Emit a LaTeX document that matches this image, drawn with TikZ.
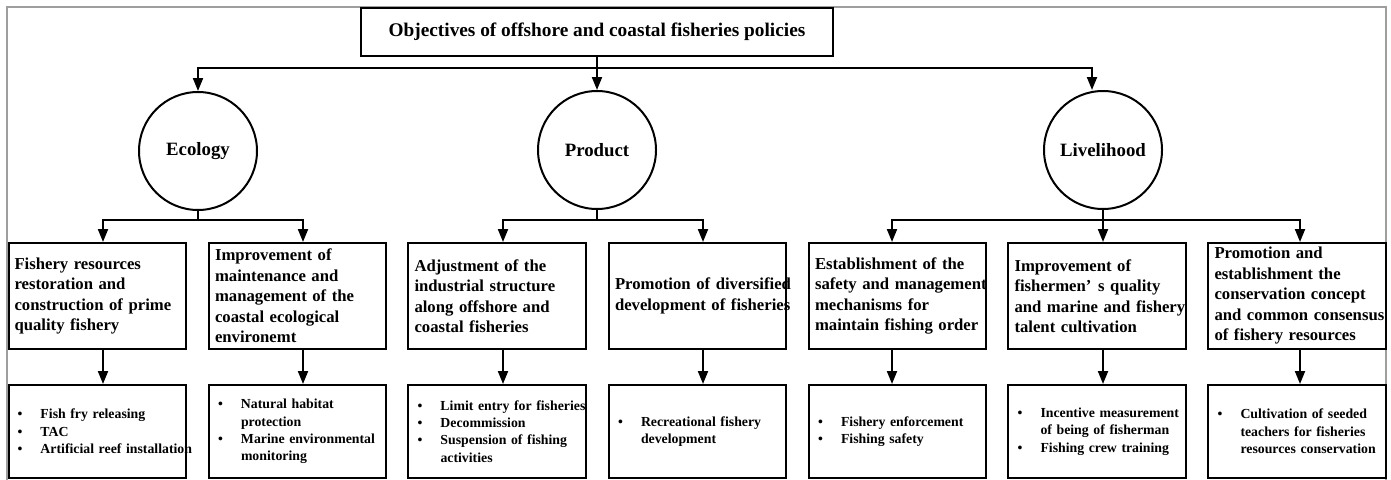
\documentclass[tikz,border=0pt]{standalone}
\usepackage{fontspec}
\setmainfont{Liberation Serif}
\usetikzlibrary{arrows.meta}
\newcommand{\bitem}{\makebox[23pt][l]{\textbullet}}
\newcommand{\bcont}{\hspace*{23pt}}
\begin{document}
\begin{tikzpicture}[x=1pt,y=-1pt,
  line width=2pt,
  arr/.style={-{Triangle[length=13pt,width=10pt]}},
  titlebox/.style={draw,minimum width=472pt,minimum height=48pt,inner sep=0pt,
    font=\bfseries\fontsize{19.3}{23}\selectfont},
  circ/.style={draw,circle,minimum size=118pt,inner sep=0pt,
    font=\bfseries\fontsize{18.8}{22}\selectfont},
  ubox/.style={draw,minimum width=177pt,minimum height=106pt,inner xsep=6pt,
    text width=165pt,align=left,font=\bfseries\fontsize{16.7}{20.5}\selectfont},
  lbox/.style={draw,minimum width=177pt,minimum height=93pt,inner xsep=9pt,
    text width=159pt,align=left,font=\bfseries\fontsize{13.8}{17.3}\selectfont}]
\useasboundingbox (0,0) rectangle (1391,479);
\draw[line width=1.4pt,color=black!38] (7,482) -- (7,7) -- (1386,7) -- (1386,482);

\node[titlebox] (title) at (597,32) {Objectives of offshore and coastal fisheries policies};

\node[circ] (eco) at (198,151) {Ecology};
\node[circ] (prod) at (597,150) {Product};
\node[circ] (liv) at (1103,150) {Livelihood};

\node[ubox,minimum width=176pt] (b1) at (97,296) {\mbox{Fishery resources}\\\mbox{restoration and}\\\mbox{construction of prime}\\\mbox{quality fishery}};
\node[ubox] (b2) at (297.5,296) {\mbox{Improvement of}\\\mbox{maintenance and}\\\mbox{management of the}\\\mbox{coastal ecological}\\\mbox{environemt}};
\node[ubox,minimum width=178pt] (b3) at (497,296) {\mbox{Adjustment of the}\\\mbox{industrial structure}\\\mbox{along offshore and}\\\mbox{coastal fisheries}};
\node[ubox] (b4) at (697.5,296) {\mbox{Promotion of diversified}\\\mbox{development of fisheries}};
\node[ubox] (b5) at (897.5,296) {\mbox{Establishment of the}\\\mbox{safety and management}\\\mbox{mechanisms for}\\\mbox{maintain fishing order}};
\node[ubox,minimum width=178pt] (b6) at (1097,296) {\mbox{Improvement of}\\\mbox{fishermen’\hspace{0.4em}s quality}\\\mbox{and marine and fishery}\\\mbox{talent cultivation}};
\node[ubox,minimum width=178pt] (b7) at (1297,296) {\mbox{Promotion and}\\\mbox{establishment the}\\\mbox{conservation concept}\\\mbox{and common consensus}\\\mbox{of fishery resources}};

\node[lbox,minimum width=176pt] (c1) at (97,431.5) {\mbox{\bitem Fish fry releasing}\\\mbox{\bitem TAC}\\\mbox{\bitem Artificial reef installation}};
\node[lbox] (c2) at (297.5,431.5) {\mbox{\bitem Natural habitat}\\\mbox{\bcont protection}\\\mbox{\bitem Marine environmental}\\\mbox{\bcont monitoring}};
\node[lbox,minimum width=178pt] (c3) at (497,431.5) {\mbox{\bitem Limit entry for fisheries}\\\mbox{\bitem Decommission}\\\mbox{\bitem Suspension of fishing}\\\mbox{\bcont activities}};
\node[lbox] (c4) at (697.5,431.5) {\mbox{\bitem Recreational fishery}\\\mbox{\bcont development}};
\node[lbox] (c5) at (897.5,431.5) {\mbox{\bitem Fishery enforcement}\\\mbox{\bitem Fishing safety}};
\node[lbox,minimum width=178pt] (c6) at (1097,431.5) {\mbox{\bitem Incentive measurement}\\\mbox{\bcont of being of fisherman}\\\mbox{\bitem Fishing crew training}};
\node[lbox,minimum width=178pt] (c7) at (1297,431.5) {\mbox{\bitem Cultivation of seeded}\\\mbox{\bcont teachers for fisheries}\\\mbox{\bcont resources conservation}};

\coordinate (hy) at (0,68);
\coordinate (ly) at (0,220);

% top level
\draw[arr] (title.south) -- (prod.north);
\draw[arr] (title.south) -- (title.south |- hy) -| (eco.north);
\draw[arr] (title.south) -- (title.south |- hy) -| ([xshift=-11pt]liv.north);

% second level
\draw[arr] (eco.south) -- (eco.south |- ly) -| ([xshift=6pt]b1.north);
\draw[arr] (eco.south) -- (eco.south |- ly) -| ([xshift=5.5pt]b2.north);
\draw[arr] (prod.south) -- (prod.south |- ly) -| ([xshift=6pt]b3.north);
\draw[arr] (prod.south) -- (prod.south |- ly) -| ([xshift=5.5pt]b4.north);
\draw[arr] (liv.south) -- (liv.south |- ly) -| ([xshift=-5.5pt]b5.north);
\draw[arr] (liv.south) -- ([xshift=6pt]b6.north);
\draw[arr] (liv.south) -- (liv.south |- ly) -| ([xshift=3pt]b7.north);

% third level
\draw[arr] ([xshift=6pt]b1.south) -- ([xshift=6pt]c1.north);
\draw[arr] ([xshift=5.5pt]b2.south) -- ([xshift=5.5pt]c2.north);
\draw[arr] ([xshift=6pt]b3.south) -- ([xshift=6pt]c3.north);
\draw[arr] ([xshift=5.5pt]b4.south) -- ([xshift=5.5pt]c4.north);
\draw[arr] ([xshift=-5.5pt]b5.south) -- ([xshift=-5.5pt]c5.north);
\draw[arr] ([xshift=6pt]b6.south) -- ([xshift=6pt]c6.north);
\draw[arr] ([xshift=3pt]b7.south) -- ([xshift=3pt]c7.north);
\end{tikzpicture}
\end{document}
